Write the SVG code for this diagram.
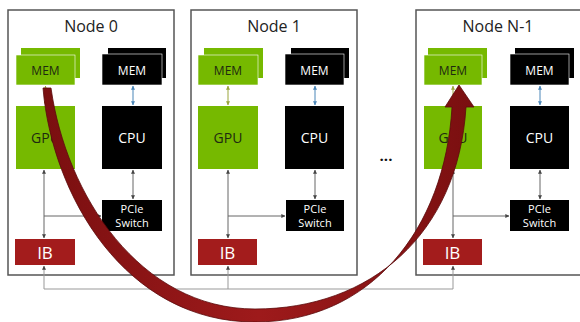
<svg xmlns="http://www.w3.org/2000/svg" width="580" height="322" viewBox="0 0 580 322">
  <style>
    .frame { fill: #fff; stroke: #555; stroke-width: 1.5; }
    .title { font-family: "Open Sans", "Noto Sans", sans-serif; font-size: 16px; fill: #222; text-anchor: middle; }
    .green { fill: #76b900; }
    .black { fill: #000; }
    .ib { fill: #a31c1c; }
    .lbl { font-family: "Open Sans", "Noto Sans", sans-serif; text-anchor: middle; }
    .mem-g { font-size: 12px; fill: #1e2a10; }
    .mem-k { font-size: 12px; fill: #fff; }
    .big-k { font-size: 14px; fill: #fff; }
    .big-g { font-size: 14px; fill: #1e2a10; }
    .pcie { font-size: 11px; fill: #fff; }
    .ibt { font-size: 17px; fill: #fff; }
    .wire { fill: none; stroke: #666; stroke-width: 1; }
    .wire-b { fill: none; stroke: #4a86b8; stroke-width: 1; }
    .wire-g { fill: none; stroke: #9aa53a; stroke-width: 1; }
    .bus { fill: none; stroke: #999; stroke-width: 1; }
  </style>
  <defs>
    <marker id="ah" viewBox="0 0 6 6" refX="5.5" refY="3" markerWidth="4" markerHeight="4" orient="auto-start-reverse">
      <path d="M0,0 L6,3 L0,6 z" fill="#444"/>
    </marker>
    <marker id="ahb" viewBox="0 0 6 6" refX="5.5" refY="3" markerWidth="4" markerHeight="4" orient="auto-start-reverse">
      <path d="M0,0 L6,3 L0,6 z" fill="#4a86b8"/>
    </marker>
    <marker id="ahg" viewBox="0 0 6 6" refX="5.5" refY="3" markerWidth="4" markerHeight="4" orient="auto-start-reverse">
      <path d="M0,0 L6,3 L0,6 z" fill="#9aa53a"/>
    </marker>
    <linearGradient id="arrowShade" x1="0" y1="0" x2="1" y2="0">
      <stop offset="0" stop-color="#7a0f10"/>
      <stop offset="0.5" stop-color="#9e1a1b"/>
      <stop offset="1" stop-color="#7a0f10"/>
    </linearGradient>
  </defs>

  <!-- Node 0 -->
  <g id="node0">
    <rect class="frame" x="8" y="10" width="166" height="265"/>
    <text class="title" x="91" y="32">Node 0</text>
    <rect class="green" x="21" y="48" width="59" height="30"/>
    <rect class="green" x="16" y="55" width="59" height="30" stroke="#fff" stroke-width="0.6"/>
    <text class="lbl mem-g" x="45.5" y="75">MEM</text>
    <rect class="black" x="108" y="48" width="58" height="30"/>
    <rect class="black" x="102" y="54" width="60" height="31" stroke="#fff" stroke-width="0.6"/>
    <text class="lbl mem-k" x="132" y="75">MEM</text>
    <rect class="green" x="16" y="106" width="59" height="63"/>
    <text class="lbl big-g" x="45.5" y="143">GPU</text>
    <rect class="black" x="102" y="106" width="60" height="63"/>
    <text class="lbl big-k" x="132" y="143">CPU</text>
    <rect class="black" x="102" y="200" width="60" height="31"/>
    <text class="lbl pcie" x="132" y="213">PCIe</text>
    <text class="lbl pcie" x="132" y="227">Switch</text>
    <rect class="ib" x="15" y="239" width="60" height="26"/>
    <text class="lbl ibt" x="45" y="259">IB</text>
  </g>

  <!-- Node 1 -->
  <g id="node1">
    <rect class="frame" x="191" y="10" width="166" height="265"/>
    <text class="title" x="274" y="32">Node 1</text>
    <rect class="green" x="204" y="48" width="59" height="30"/>
    <rect class="green" x="198" y="55" width="60" height="30" stroke="#fff" stroke-width="0.6"/>
    <text class="lbl mem-g" x="228" y="75">MEM</text>
    <rect class="black" x="291" y="48" width="58" height="30"/>
    <rect class="black" x="285" y="54" width="59" height="31" stroke="#fff" stroke-width="0.6"/>
    <text class="lbl mem-k" x="314.5" y="75">MEM</text>
    <rect class="green" x="198" y="106" width="60" height="63"/>
    <text class="lbl big-g" x="228" y="143">GPU</text>
    <rect class="black" x="285" y="106" width="59" height="63"/>
    <text class="lbl big-k" x="314.5" y="143">CPU</text>
    <rect class="black" x="286" y="200" width="58" height="31"/>
    <text class="lbl pcie" x="315" y="213">PCIe</text>
    <text class="lbl pcie" x="315" y="227">Switch</text>
    <rect class="ib" x="198" y="239" width="59" height="26"/>
    <text class="lbl ibt" x="227.5" y="259">IB</text>
  </g>

  <!-- Node N-1 -->
  <g id="nodeN1">
    <rect class="frame" x="416" y="10" width="170" height="265"/>
    <text class="title" x="498" y="32">Node N-1</text>
    <rect class="green" x="428" y="48" width="59" height="30"/>
    <rect class="green" x="424" y="55" width="58" height="30" stroke="#fff" stroke-width="0.6"/>
    <text class="lbl mem-g" x="453" y="75">MEM</text>
    <rect class="black" x="515" y="48" width="59" height="30"/>
    <rect class="black" x="510" y="54" width="59" height="31" stroke="#fff" stroke-width="0.6"/>
    <text class="lbl mem-k" x="539.5" y="75">MEM</text>
    <rect class="green" x="424" y="106" width="58" height="63"/>
    <text class="lbl big-g" x="453" y="143">GPU</text>
    <rect class="black" x="510" y="106" width="59" height="63"/>
    <text class="lbl big-k" x="539.5" y="143">CPU</text>
    <rect class="black" x="510" y="200" width="59" height="31"/>
    <text class="lbl pcie" x="539.5" y="213">PCIe</text>
    <text class="lbl pcie" x="539.5" y="227">Switch</text>
    <rect class="ib" x="423" y="239" width="59" height="26"/>
    <text class="lbl ibt" x="452.5" y="259">IB</text>
  </g>

  <g id="ellipsis">
    <text x="386" y="161" font-family="'Open Sans', sans-serif" font-size="15" font-weight="bold" text-anchor="middle" fill="#111">...</text>
  </g>

  <!-- Connectors -->
  <g id="connectors">
    <!-- Node 0 -->
    <line class="wire-g" x1="45.5" y1="86" x2="45.5" y2="105" marker-start="url(#ahg)" marker-end="url(#ahg)"/>
    <line class="wire-b" x1="133" y1="86" x2="133" y2="105" marker-start="url(#ahb)" marker-end="url(#ahb)"/>
    <line class="wire" x1="133" y1="170" x2="133" y2="199" marker-start="url(#ah)" marker-end="url(#ah)"/>
    <line class="wire" x1="44" y1="170" x2="44" y2="238" marker-start="url(#ah)" marker-end="url(#ah)"/>
    <line class="wire" x1="44" y1="216" x2="101" y2="216" marker-end="url(#ah)"/>
    <!-- Node 1 -->
    <line class="wire-g" x1="228" y1="86" x2="228" y2="105" marker-start="url(#ahg)" marker-end="url(#ahg)"/>
    <line class="wire-b" x1="315" y1="86" x2="315" y2="105" marker-start="url(#ahb)" marker-end="url(#ahb)"/>
    <line class="wire" x1="315" y1="170" x2="315" y2="199" marker-start="url(#ah)" marker-end="url(#ah)"/>
    <line class="wire" x1="228" y1="170" x2="228" y2="238" marker-start="url(#ah)" marker-end="url(#ah)"/>
    <line class="wire" x1="228" y1="216" x2="285" y2="216" marker-end="url(#ah)"/>
    <!-- Node N-1 -->
    <line class="wire-g" x1="453" y1="86" x2="453" y2="105" marker-start="url(#ahg)" marker-end="url(#ahg)"/>
    <line class="wire-b" x1="540" y1="86" x2="540" y2="105" marker-start="url(#ahb)" marker-end="url(#ahb)"/>
    <line class="wire" x1="540" y1="170" x2="540" y2="199" marker-start="url(#ah)" marker-end="url(#ah)"/>
    <line class="wire" x1="453" y1="170" x2="453" y2="238" marker-start="url(#ah)" marker-end="url(#ah)"/>
    <line class="wire" x1="453" y1="216" x2="509" y2="216" marker-end="url(#ah)"/>
    <!-- IB fabric -->
    <path class="bus" d="M44,266 V289 H453 V266" marker-start="url(#ah)" marker-end="url(#ah)"/>
    <line class="bus" x1="228" y1="289" x2="228" y2="266" marker-end="url(#ah)"/>
    <!-- GPU memory to GPU memory transfer -->
    <path d="M43,88 C52,195 125,322 255,322 C370,322 445,230 452,107 L445,107 L459,85 L474,107 L466,107 C458,235 370,309 255,309 C140,309 66,195 51,88 Z"
          fill="url(#arrowShade)" stroke="#5a0a0b" stroke-width="0.8"/>
  </g>
</svg>
